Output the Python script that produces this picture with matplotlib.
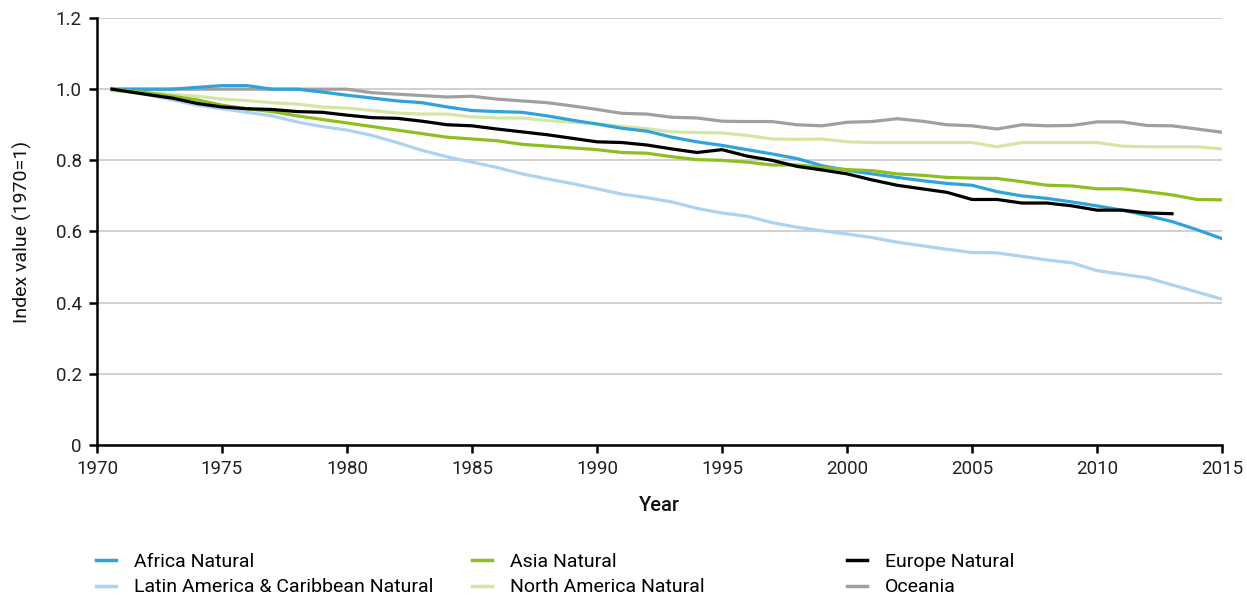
import matplotlib
matplotlib.use("Agg")
import matplotlib.pyplot as plt
import numpy as np
from matplotlib.ticker import FuncFormatter
from matplotlib.lines import Line2D

plt.rcParams['font.family'] = ['Roboto', 'DejaVu Sans']

years = [1970.6] + list(range(1972, 2016))

africa = [1.0, 1.0, 1.0, 1.005, 1.01, 1.01, 1.0, 1.0, 0.992, 0.983,
          0.975, 0.967, 0.962, 0.95, 0.94, 0.937, 0.935, 0.925, 0.913, 0.902,
          0.89, 0.882, 0.865, 0.852, 0.842, 0.83, 0.818, 0.805, 0.785, 0.772,
          0.762, 0.752, 0.743, 0.735, 0.73, 0.712, 0.70, 0.693, 0.683, 0.672,
          0.66, 0.645, 0.628, 0.605, 0.58]
asia = [1.0, 0.99, 0.98, 0.97, 0.955, 0.945, 0.937, 0.925, 0.915, 0.905,
        0.895, 0.885, 0.875, 0.865, 0.86, 0.855, 0.845, 0.84, 0.835, 0.83,
        0.822, 0.82, 0.81, 0.802, 0.80, 0.795, 0.787, 0.787, 0.78, 0.774,
        0.771, 0.762, 0.758, 0.752, 0.75, 0.749, 0.74, 0.73, 0.728, 0.72,
        0.72, 0.712, 0.703, 0.69, 0.689]
europe = [1.0, 0.985, 0.975, 0.96, 0.95, 0.945, 0.943, 0.937, 0.935, 0.927,
          0.92, 0.918, 0.91, 0.90, 0.897, 0.888, 0.88, 0.872, 0.862, 0.852,
          0.85, 0.843, 0.832, 0.822, 0.83, 0.812, 0.80, 0.783, 0.773, 0.762,
          0.745, 0.73, 0.72, 0.71, 0.69, 0.69, 0.68, 0.68, 0.672, 0.66,
          0.66, 0.652, 0.65, np.nan, np.nan]
latam = [1.0, 0.985, 0.97, 0.955, 0.945, 0.935, 0.925, 0.908, 0.895, 0.885,
         0.87, 0.85, 0.828, 0.81, 0.795, 0.78, 0.762, 0.748, 0.735, 0.72,
         0.705, 0.695, 0.683, 0.665, 0.652, 0.643, 0.625, 0.612, 0.602, 0.593,
         0.583, 0.57, 0.56, 0.55, 0.541, 0.54, 0.53, 0.52, 0.512, 0.49,
         0.48, 0.47, 0.45, 0.43, 0.41]
namerica = [0.995, 0.99, 0.985, 0.98, 0.972, 0.968, 0.962, 0.958, 0.95, 0.947,
            0.94, 0.933, 0.93, 0.93, 0.922, 0.919, 0.919, 0.912, 0.907, 0.903,
            0.895, 0.889, 0.88, 0.878, 0.877, 0.87, 0.86, 0.859, 0.86, 0.852,
            0.85, 0.85, 0.85, 0.85, 0.85, 0.838, 0.85, 0.85, 0.85, 0.85,
            0.84, 0.838, 0.838, 0.838, 0.832]
oceania = [1.0, 1.0, 1.0, 1.0, 1.0, 1.0, 1.0, 1.0, 1.0, 1.0,
           0.99, 0.986, 0.982, 0.978, 0.98, 0.972, 0.967, 0.962, 0.953, 0.943,
           0.932, 0.93, 0.921, 0.919, 0.91, 0.909, 0.909, 0.9, 0.897, 0.907,
           0.909, 0.917, 0.91, 0.9, 0.897, 0.888, 0.9, 0.897, 0.898, 0.908,
           0.908, 0.898, 0.897, 0.888, 0.879]

names = ["Africa Natural", "Asia Natural", "Europe Natural",
         "Latin America & Caribbean Natural", "North America Natural", "Oceania"]
colors = ["#2ea3dc", "#8cbf1f", "#000000", "#acd3f1", "#d3e6a6", "#a0a0a0"]
series = [africa, asia, europe, latam, namerica, oceania]

fig = plt.figure(figsize=(12.47, 5.98), dpi=100)
ax = fig.add_axes([97/1247, 1-445/598, (1222-97)/1247, (445-18)/598])

draw_order = [3, 4, 5, 0, 1, 2]
for i in draw_order:
    ax.plot(years, series[i], color=colors[i], lw=2.3, label=names[i],
            solid_joinstyle='round', zorder=3)

ax.set_xlim(1970, 2015)
ax.set_ylim(0, 1.2)
ax.set_xticks(range(1970, 2016, 5))
ax.set_yticks(np.arange(0, 1.21, 0.2))
ax.yaxis.set_major_formatter(FuncFormatter(lambda v, p: "0" if abs(v) < 1e-9 else f"{v:.1f}"))
ax.grid(axis='y', color='#d0d0d0', lw=1.4, zorder=0)
ax.set_axisbelow(True)
for s in ['top', 'right']:
    ax.spines[s].set_visible(False)
for s in ['left', 'bottom']:
    ax.spines[s].set_linewidth(1.8)
    ax.spines[s].set_color('black')
ax.tick_params(direction='out', length=6, width=1.8, labelsize=13.5, colors='#222222', pad=5)
ax.tick_params(axis='both', color='black')
ax.set_xlabel("Year", fontsize=14.5, fontweight='medium', labelpad=13, color='#111111')
ax.set_ylabel("Index value (1970=1)", fontsize=14, labelpad=17, color='#111111')

col_x = [96/1247, 472/1247, 847/1247]
for c in range(3):
    hs = []
    for idx in (c, c + 3):
        hs.append(Line2D([], [], color=colors[idx], lw=2.5, label=names[idx]))
    fig.legend(handles=hs, loc='upper left', bbox_to_anchor=(col_x[c], 1-553/598),
               frameon=False, fontsize=14, handlelength=1.05, handletextpad=0.9,
               labelspacing=0.38, borderaxespad=0, borderpad=0)

fig.savefig("out.png", dpi=100)
